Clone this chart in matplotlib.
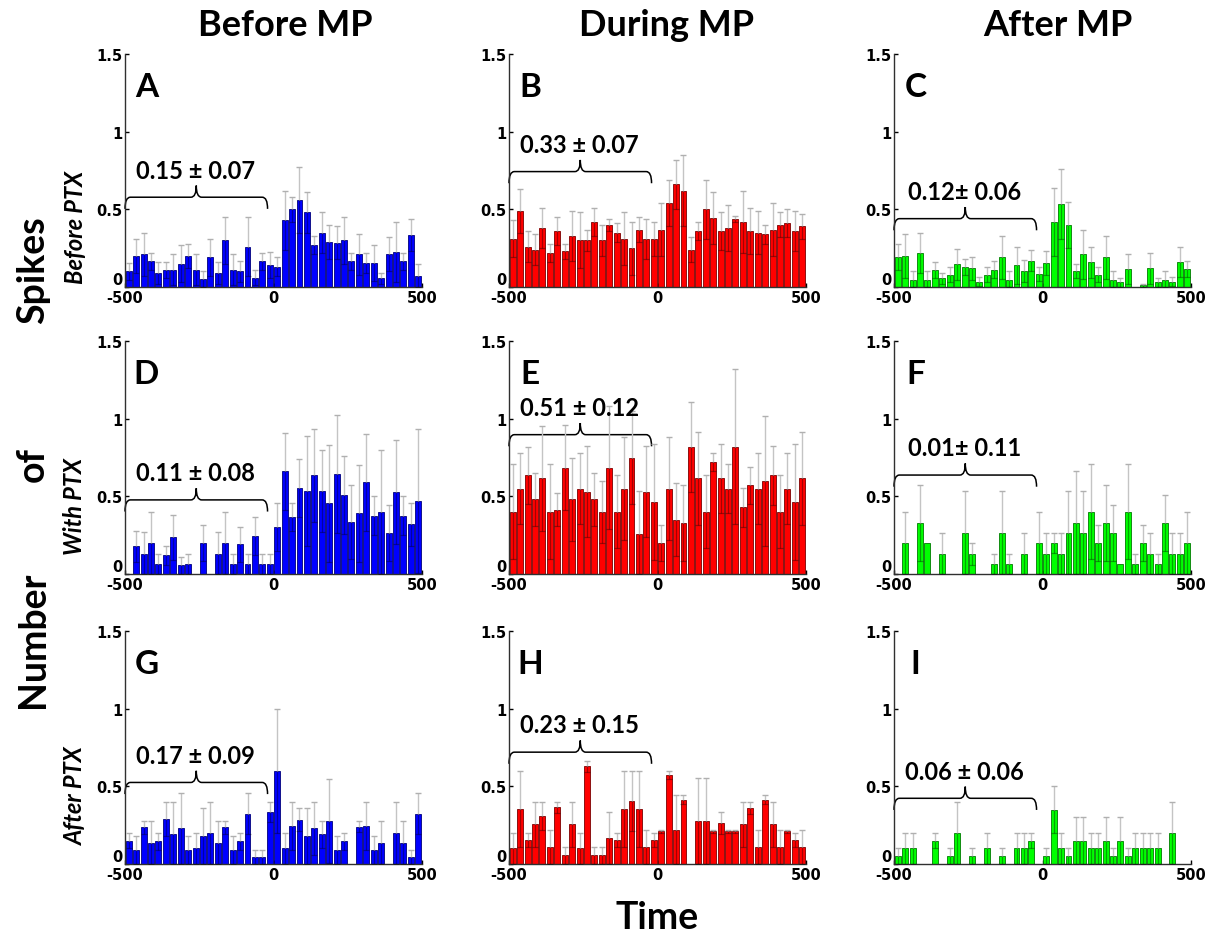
import numpy as np
import matplotlib
matplotlib.use("Agg")
import matplotlib.pyplot as plt
from matplotlib.path import Path
from matplotlib.patches import PathPatch

# bin centres (ms), 40 bins of 25 ms
time_bins = np.arange(-487.5, 500, 25)

col_titles = ["Before MP", "During MP", "After MP"]
row_titles = ["Before PTX", "With PTX", "After PTX"]
panel_letters = ["A", "B", "C", "D", "E", "F", "G", "H", "I"]
baseline_text = ["0.15 \u00b1 0.07", "0.33 \u00b1 0.07", "0.12\u00b1 0.06",
                 "0.11 \u00b1 0.08", "0.51 \u00b1 0.12", "0.01\u00b1 0.11",
                 "0.17 \u00b1 0.09", "0.23 \u00b1 0.15", "0.06 \u00b1 0.06"]
brace_level = [0.578, 0.743, 0.44, 0.477, 0.897, 0.637, 0.525, 0.72, 0.423]

# mean spike counts per bin and top of the error bar (mean + sem)
a_mean = [0.10, 0.20, 0.21, 0.165, 0.09, 0.11, 0.11, 0.15, 0.20, 0.11, 0.05, 0.19, 0.09, 0.30, 0.11, 0.10, 0.26, 0.06, 0.165, 0.14,
          0.13, 0.43, 0.50, 0.56, 0.48, 0.27, 0.35, 0.29, 0.285, 0.30, 0.165, 0.21, 0.155, 0.155, 0.055, 0.21, 0.225, 0.165, 0.335, 0.07]
a_top = [0.155, 0.31, 0.35, 0.22, 0.16, 0.16, 0.21, 0.27, 0.28, 0.21, 0.10, 0.31, 0.16, 0.45, 0.21, 0.17, 0.45, 0.11, 0.22, 0.225,
         0.19, 0.62, 0.58, 0.77, 0.61, 0.33, 0.48, 0.40, 0.39, 0.45, 0.22, 0.34, 0.22, 0.27, 0.09, 0.32, 0.42, 0.22, 0.44, 0.15]

b_mean = [0.31, 0.49, 0.26, 0.24, 0.38, 0.22, 0.36, 0.23, 0.33, 0.30, 0.30, 0.42, 0.30, 0.40, 0.35, 0.31, 0.25, 0.37, 0.31, 0.31,
          0.37, 0.54, 0.66, 0.62, 0.24, 0.36, 0.50, 0.445, 0.36, 0.38, 0.44, 0.42, 0.36, 0.35, 0.34, 0.37, 0.40, 0.41, 0.36, 0.39]
b_top = [0.43, 0.63, 0.36, 0.34, 0.51, 0.28, 0.45, 0.28, 0.49, 0.48, 0.37, 0.51, 0.40, 0.44, 0.41, 0.48, 0.42, 0.45, 0.44, 0.42,
         0.54, 0.69, 0.82, 0.85, 0.32, 0.42, 0.69, 0.61, 0.48, 0.53, 0.46, 0.62, 0.51, 0.49, 0.40, 0.54, 0.48, 0.50, 0.49, 0.47]

c_mean = [0.195, 0.20, 0.045, 0.22, 0.045, 0.11, 0.055, 0.08, 0.145, 0.13, 0.12, 0.035, 0.08, 0.11, 0.19, 0.045, 0.14, 0.105, 0.17, 0.085,
          0.155, 0.42, 0.535, 0.40, 0.105, 0.21, 0.16, 0.08, 0.19, 0.045, 0.03, 0.115, 0.0, 0.01, 0.12, 0.03, 0.045, 0.035, 0.16, 0.115]
c_top = [0.28, 0.34, 0.10, 0.35, 0.10, 0.16, 0.09, 0.13, 0.245, 0.18, 0.195, 0.065, 0.13, 0.165, 0.33, 0.10, 0.26, 0.175, 0.24, 0.13,
         0.23, 0.64, 0.76, 0.55, 0.15, 0.37, 0.26, 0.13, 0.33, 0.10, 0.06, 0.21, 0.0, 0.02, 0.22, 0.06, 0.10, 0.065, 0.255, 0.165]

d_mean = [0.0, 0.18, 0.13, 0.20, 0.065, 0.12, 0.235, 0.055, 0.065, 0.0, 0.20, 0.0, 0.13, 0.20, 0.065, 0.19, 0.065, 0.245, 0.065, 0.065,
          0.30, 0.66, 0.37, 0.555, 0.535, 0.635, 0.535, 0.455, 0.645, 0.51, 0.335, 0.39, 0.59, 0.375, 0.40, 0.265, 0.525, 0.375, 0.32, 0.47]
d_top = [0.0, 0.28, 0.27, 0.40, 0.13, 0.18, 0.38, 0.11, 0.13, 0.0, 0.315, 0.0, 0.27, 0.40, 0.13, 0.30, 0.13, 0.37, 0.13, 0.13,
         0.455, 0.91, 0.46, 0.74, 0.89, 0.935, 0.80, 0.83, 1.025, 0.76, 0.575, 0.70, 0.90, 0.50, 0.80, 0.445, 0.86, 0.50, 0.46, 0.935]

e_mean = [0.40, 0.55, 0.635, 0.48, 0.615, 0.40, 0.415, 0.685, 0.48, 0.55, 0.53, 0.48, 0.40, 0.685, 0.40, 0.55, 0.75, 0.255, 0.53, 0.465,
          0.20, 0.55, 0.35, 0.33, 0.82, 0.615, 0.40, 0.72, 0.615, 0.55, 0.82, 0.43, 0.57, 0.55, 0.60, 0.635, 0.40, 0.55, 0.465, 0.615]
e_top = [0.705, 0.78, 0.82, 0.65, 0.95, 0.705, 0.52, 0.96, 0.745, 0.78, 0.825, 0.65, 0.60, 1.08, 0.635, 0.88, 1.05, 0.535, 0.825, 0.84,
         0.315, 0.88, 0.585, 0.575, 1.11, 0.915, 0.635, 0.78, 0.84, 0.71, 1.32, 0.555, 0.69, 0.78, 1.02, 0.825, 0.635, 0.78, 0.84, 0.915]

f_mean = [0.0, 0.20, 0.0, 0.33, 0.20, 0.0, 0.13, 0.0, 0.0, 0.265, 0.13, 0.0, 0.0, 0.065, 0.265, 0.065, 0.0, 0.13, 0.0, 0.20,
          0.13, 0.20, 0.13, 0.265, 0.33, 0.265, 0.40, 0.20, 0.33, 0.265, 0.065, 0.40, 0.065, 0.20, 0.13, 0.065, 0.33, 0.13, 0.13, 0.20]
f_top = [0.0, 0.40, 0.0, 0.575, 0.20, 0.0, 0.265, 0.0, 0.0, 0.535, 0.20, 0.0, 0.0, 0.13, 0.535, 0.13, 0.0, 0.265, 0.0, 0.40,
         0.265, 0.265, 0.265, 0.535, 0.665, 0.535, 0.705, 0.315, 0.575, 0.445, 0.065, 0.705, 0.13, 0.315, 0.265, 0.13, 0.51, 0.265, 0.265, 0.40]

g_mean = [0.15, 0.09, 0.235, 0.135, 0.145, 0.29, 0.19, 0.23, 0.09, 0.10, 0.18, 0.20, 0.135, 0.235, 0.09, 0.145, 0.325, 0.045, 0.045, 0.335,
          0.60, 0.10, 0.245, 0.285, 0.18, 0.23, 0.19, 0.275, 0.09, 0.145, 0.0, 0.24, 0.245, 0.09, 0.135, 0.0, 0.20, 0.135, 0.045, 0.325]
g_top = [0.20, 0.18, 0.275, 0.275, 0.20, 0.40, 0.40, 0.46, 0.18, 0.20, 0.36, 0.40, 0.275, 0.275, 0.18, 0.20, 0.46, 0.09, 0.09, 0.40,
         1.00, 0.20, 0.40, 0.36, 0.36, 0.40, 0.275, 0.545, 0.18, 0.20, 0.0, 0.275, 0.40, 0.18, 0.275, 0.0, 0.40, 0.275, 0.09, 0.455]

h_mean = [0.10, 0.355, 0.155, 0.255, 0.31, 0.11, 0.365, 0.055, 0.255, 0.10, 0.63, 0.055, 0.055, 0.165, 0.155, 0.355, 0.405, 0.355, 0.11, 0.155,
          0.21, 0.575, 0.22, 0.415, 0.0, 0.275, 0.275, 0.21, 0.265, 0.21, 0.21, 0.255, 0.36, 0.11, 0.415, 0.255, 0.11, 0.21, 0.155, 0.11]
h_top = [0.20, 0.60, 0.20, 0.40, 0.40, 0.22, 0.40, 0.11, 0.40, 0.20, 0.665, 0.11, 0.11, 0.335, 0.20, 0.60, 0.60, 0.60, 0.22, 0.20,
         0.22, 0.60, 0.445, 0.445, 0.0, 0.555, 0.555, 0.22, 0.335, 0.22, 0.22, 0.40, 0.40, 0.22, 0.445, 0.40, 0.22, 0.22, 0.20, 0.22]

i_mean = [0.05, 0.10, 0.10, 0.0, 0.0, 0.15, 0.0, 0.05, 0.20, 0.0, 0.05, 0.0, 0.10, 0.0, 0.05, 0.0, 0.10, 0.10, 0.15, 0.0,
          0.05, 0.35, 0.10, 0.05, 0.15, 0.15, 0.10, 0.10, 0.15, 0.05, 0.15, 0.05, 0.10, 0.10, 0.10, 0.10, 0.0, 0.20, 0.0, 0.0]
i_top = [0.10, 0.20, 0.20, 0.0, 0.0, 0.20, 0.0, 0.10, 0.40, 0.0, 0.10, 0.0, 0.20, 0.0, 0.10, 0.0, 0.20, 0.20, 0.20, 0.0,
         0.10, 0.50, 0.20, 0.10, 0.30, 0.30, 0.20, 0.20, 0.30, 0.10, 0.30, 0.10, 0.20, 0.20, 0.20, 0.20, 0.0, 0.40, 0.0, 0.0]

means = [a_mean, b_mean, c_mean, d_mean, e_mean, f_mean, g_mean, h_mean, i_mean]
tops = [a_top, b_top, c_top, d_top, e_top, f_top, g_top, h_top, i_top]

bar_colors = ["#0000ff", "#ff0000", "#00ff00"]
edge_colors = ["#00007a", "#7a0000", "#007a00"]

TXT = "Lato"


def draw_brace(ax, x0, x1, y, h=0.075, rx=18):
    xm = (x0 + x1) / 2
    verts = [(x0, y - h), (x0, y), (x0 + rx, y), (xm - rx, y), (xm, y), (xm, y + h),
             (xm, y), (xm + rx, y), (x1 - rx, y), (x1, y), (x1, y - h)]
    codes = [Path.MOVETO, Path.CURVE3, Path.CURVE3, Path.LINETO, Path.CURVE3, Path.CURVE3,
             Path.CURVE3, Path.CURVE3, Path.LINETO, Path.CURVE3, Path.CURVE3]
    ax.add_patch(PathPatch(Path(verts, codes), fill=False, lw=1.1, color="black", clip_on=False))


W, H = 1211, 937
fig = plt.figure(figsize=(W / 100, H / 100), dpi=100)

col_left = [125, 509, 894]
row_top = [55, 342, 632]
ax_w, ax_h = 297, 233

for idx in range(9):
    r, c = divmod(idx, 3)
    ax = fig.add_axes([col_left[c] / W, 1 - (row_top[r] + ax_h) / H, ax_w / W, ax_h / H])
    m = np.array(means[idx])
    t = np.array(tops[idx])
    sem = t - m
    ax.bar(time_bins, m, width=20, color=bar_colors[c], edgecolor=edge_colors[c], linewidth=0.6, zorder=2)
    ok = sem > 0
    # upper half of the error bar in light grey, lower half dark inside the bar
    ax.vlines(time_bins[ok], m[ok], t[ok], color="#c4c4c4", lw=1.0, zorder=3)
    ax.plot(time_bins[ok], t[ok], ls="none", marker="_", ms=4.5, mew=1.0, color="#b0b0b0", zorder=3)
    low = np.clip(m - sem, 0, None)
    ax.vlines(time_bins[ok], low[ok], m[ok], color="black", alpha=0.35, lw=0.9, zorder=3)
    ax.plot(time_bins[ok], low[ok], ls="none", marker="_", ms=4.5, mew=0.9, color="black", alpha=0.35, zorder=3)

    ax.set_xlim(-500, 500)
    ax.set_ylim(0, 1.5)
    ax.set_xticks([-500, 0, 500])
    ax.set_xticklabels(["-500", "0", "500"])
    ax.set_yticks([0, 0.5, 1, 1.5])
    ax.set_yticklabels(["0", "0.5", "1", "1.5"])
    ax.tick_params(direction="in", length=3, width=1, pad=2, labelsize=10.5, colors="black")
    for lab in ax.get_xticklabels() + ax.get_yticklabels():
        lab.set_fontweight("bold")
    # the y "0" sits just above the axis line, clear of "-500"
    ax.get_yticklabels()[0].set_verticalalignment("bottom")
    for s in ["top", "right"]:
        ax.spines[s].set_visible(False)
    for s in ["left", "bottom"]:
        ax.spines[s].set_color("#303030")
        ax.spines[s].set_linewidth(1.0)
    ax.patch.set_alpha(0)

    ax.text(0.072, 0.86, panel_letters[idx], transform=ax.transAxes, ha="center", va="center",
            fontsize=24, fontweight="bold", family=TXT)
    draw_brace(ax, -500, -20, brace_level[idx])
    ax.text(-262, brace_level[idx] + 0.175, baseline_text[idx], ha="center", va="center",
            fontsize=17, fontweight="bold", family=TXT)

col_centers = [285, 667, 1058]
for c in range(3):
    fig.text(col_centers[c] / W, 1 - 25 / H, col_titles[c], ha="center", va="center",
             fontsize=26, fontweight="bold", family=TXT)

row_centers = [227, 507, 796]
for r in range(3):
    fig.text(75 / W, 1 - row_centers[r] / H, row_titles[r], ha="center", va="center", rotation=90,
             fontsize=17, fontweight="bold", style="italic", family=TXT)

for word, yc in [("Spikes", 270), ("of", 465), ("Number", 640)]:
    fig.text(33 / W, 1 - yc / H, word, ha="center", va="center", rotation=90,
             fontsize=27, fontweight="bold", family=TXT)

fig.text(657 / W, 1 - 918 / H, "Time", ha="center", va="center", fontsize=27, fontweight="bold", family=TXT)

fig.savefig("out.png", dpi=100, facecolor="white")
